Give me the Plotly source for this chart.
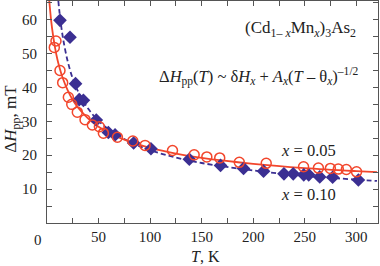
import plotly.graph_objects as go

# x = 0.05 (open red circles)
t_05 = [7.1, 8.7, 12.6, 15.2, 20.7, 24.0, 29.4, 36.9, 44.0, 50.8, 54.7, 68.3, 83.2, 95.1, 121.7,
        142.7, 155.0, 167.5, 186.5, 212.6, 248.8, 263.2, 274.8, 282.5, 290.3, 300.2]
h_05 = [51.8, 53.7, 45.0, 41.4, 37.1, 35.0, 32.7, 30.5, 28.9, 28.4, 26.5, 25.3, 24.2, 22.9, 21.4,
        20.1, 19.5, 19.2, 17.9, 17.6, 16.6, 16.2, 16.1, 15.9, 15.8, 15.1]

# x = 0.10 (filled blue diamonds)
t_10 = [12.6, 22.3, 27.7, 31.2, 35.3, 47.8, 59.5, 66.0, 84.0, 100.8, 138.0, 168.3, 190.6, 210.0,
        229.8, 238.8, 249.0, 253.8, 264.5, 277.0, 302.0]
h_10 = [59.8, 54.8, 41.1, 36.4, 36.2, 30.4, 26.7, 26.0, 23.6, 21.9, 18.8, 17.0, 16.1, 15.3,
        14.5, 14.5, 14.2, 14.2, 13.6, 13.5, 12.7]

# fit curves
fit_t_05 = [2, 4, 6, 8, 10, 12, 15, 20, 25, 30, 40, 50, 60, 80, 100, 125, 150, 200, 250, 300, 320]
fit_h_05 = [66.3, 59.8, 55.1, 51.4, 48.4, 46.0, 43.0, 39.2, 36.3, 34.1, 30.8, 28.4, 26.6, 24.0,
            22.2, 20.5, 19.2, 17.45, 16.2, 15.3, 15.0]
fit_t_10 = [11, 12, 14, 16, 20, 25, 30, 40, 50, 60, 80, 100, 125, 150, 200, 250, 300, 320]
fit_h_10 = [65.5, 62.5, 57.6, 53.7, 47.8, 42.6, 38.9, 33.7, 30.1, 27.6, 24.0, 21.5, 19.3, 17.7,
            15.5, 13.9, 12.8, 12.4]

x_ticks = [50, 100, 150, 200, 250, 300]
y_ticks = [10, 20, 30, 40, 50, 60]

RED = "#f2462c"
BLUE = "#3b2f92"
FONT = "Liberation Serif"
AXC = "#555555"
TXT = "#222222"

fig = go.Figure()
fig.add_trace(go.Scatter(x=fit_t_10, y=fit_h_10, mode="lines", line_shape="spline",
                         line=dict(color=BLUE, width=1.8, dash="5px,3px"), hoverinfo="skip"))
fig.add_trace(go.Scatter(x=fit_t_05, y=fit_h_05, mode="lines", line_shape="spline",
                         line=dict(color=RED, width=1.8), hoverinfo="skip"))
fig.add_trace(go.Scatter(x=t_10, y=h_10, mode="markers",
                         marker=dict(symbol="diamond", size=10.5, color=BLUE, line=dict(width=0))))
fig.add_trace(go.Scatter(x=t_05, y=h_05, mode="markers",
                         marker=dict(symbol="circle-open", size=10, color=RED, line=dict(width=1.5, color=RED))))

ann = [
    dict(x=246, y=57.3, size=17,
         text="(Cd<sub>1– <i>x</i></sub>Mn<sub><i>x</i></sub>)<sub>3</sub>As<sub>2</sub>"),
    dict(x=206, y=43.3, size=16.5,
         text="Δ<i>H</i><sub>pp</sub>(<i>T</i>) ~ δ<i>H<sub>x</sub></i> + <i>A<sub>x</sub></i>(<i>T</i> – θ<sub><i>x</i></sub>)<sup>–1/2</sup>"),
    dict(x=254, y=21.4, size=16.5, text="<i>x</i> = 0.05"),
    dict(x=254, y=8.3, size=16.5, text="<i>x</i> = 0.10"),
]
annotations = []
for a in ann:
    annotations.append(dict(xref="x", yref="y", x=a["x"], y=a["y"], text=a["text"], showarrow=False,
                            xanchor="center", yanchor="middle",
                            font=dict(family=FONT, color=TXT, size=a["size"])))
annotations.append(dict(xref="paper", yref="paper", x=0, y=0, xanchor="center", yanchor="top",
                        xshift=-9.5, yshift=-7,
                        showarrow=False, text="0", font=dict(family=FONT, size=15, color=TXT)))
annotations.append(dict(xref="paper", yref="paper", x=0, y=0.47, xanchor="center", yanchor="middle",
                        xshift=-35, textangle=-90,
                        showarrow=False, text="Δ<i>H</i><sub>pp</sub>, mT",
                        font=dict(family=FONT, size=17, color=TXT)))
annotations.append(dict(xref="x", yref="paper", x=154, y=0, xanchor="center", yanchor="top", yshift=-23,
                        showarrow=False, text="<i>T</i>, K",
                        font=dict(family=FONT, size=16, color=TXT)))

fig.update_layout(
    width=380, height=266,
    margin=dict(l=47, r=2, t=1, b=43),
    paper_bgcolor="white", plot_bgcolor="white",
    showlegend=False,
    font=dict(family=FONT, size=15, color=TXT),
    annotations=annotations,
    xaxis=dict(range=[0, 321], tickvals=x_ticks, ticks="inside", ticklen=5, tickwidth=1,
               tickcolor=AXC, showline=True, linecolor=AXC, linewidth=1.2, mirror="ticks",
               showgrid=False, zeroline=False, ticklabelstandoff=0,
               minor=dict(dtick=25, tick0=0, ticks="inside", ticklen=5, tickcolor=AXC, showgrid=False)),
    yaxis=dict(range=[0, 65.5], tickvals=y_ticks, ticks="inside", ticklen=5, tickwidth=1,
               tickcolor=AXC, showline=True, linecolor=AXC, linewidth=1.2, mirror="ticks",
               showgrid=False, zeroline=False, ticklabelstandoff=6,
               minor=dict(dtick=5, tick0=0, ticks="inside", ticklen=5, tickcolor=AXC, showgrid=False)),
)

fig.write_html("out.html", config={"displayModeBar": False},
               post_script="document.body.style.margin='0';document.body.style.padding='0';")
